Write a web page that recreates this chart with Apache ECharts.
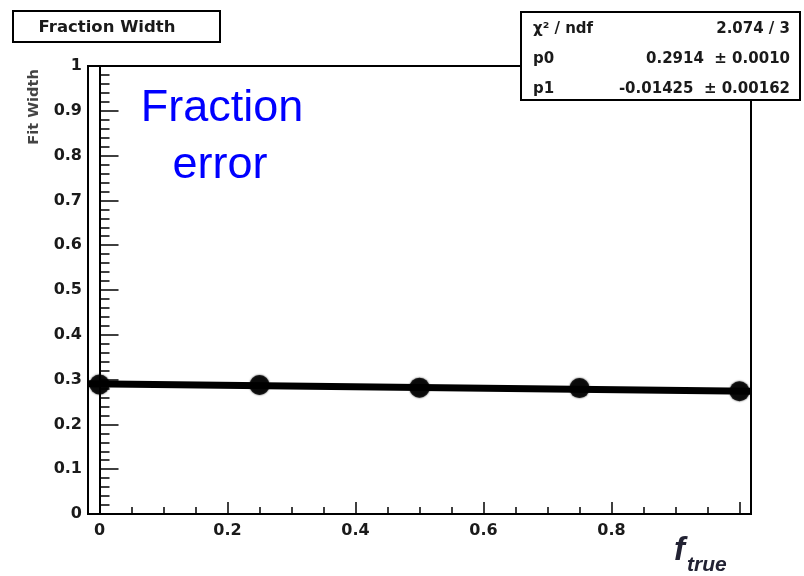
<!DOCTYPE html>
<html>
<head>
<meta charset="utf-8">
<title>Fraction Width</title>
<script src="https://cdn.jsdelivr.net/npm/echarts@6/dist/echarts.min.js"></script>
<style>
    html, body { margin: 0; padding: 0; background: #fff; }
    #chart { width: 804px; height: 576px; }
</style>
</head>
<body>
<div id="chart"></div>
<script>
    // measured points
    const fTrue = [0, 0.25, 0.5, 0.75, 1.0]
    const fitWidth = [0.289, 0.288, 0.282, 0.281, 0.274]

    // fit line, read at the frame edges
    const fitX = [-0.018, 1.018]
    const fitY = [0.291, 0.274]

    const xTicks = [0, 0.2, 0.4, 0.6, 0.8]

    const statNames = ['χ² / ndf', 'p0', 'p1']
    const statValues = ['2.074 / 3', '0.2914  ± 0.0010', '-0.01425  ± 0.00162']

    const textFont = 'DejaVu Sans'
    const ink = '#1a1a1a'

    let chart = echarts.init(document.getElementById('chart'))

    let points = []
    for (let i = 0, j = fTrue.length; i < j; i++) {
        points.push([fTrue[i], fitWidth[i]])
    }
    let fitLine = []
    for (let i = 0; i < fitX.length; i++) {
        fitLine.push([fitX[i], fitY[i]])
    }

    let graphics = [
        {
            type: 'rect',
            shape: { x: 13, y: 11, width: 207, height: 31 },
            style: { fill: '#fff', stroke: '#000', lineWidth: 2 },
            z: 10
        },
        {
            type: 'text',
            x: 107, y: 28,
            style: {
                text: 'Fraction Width', fill: ink, font: 'bold 16.5px ' + textFont,
                align: 'center', verticalAlign: 'middle'
            },
            z: 11
        },
        {
            type: 'text',
            x: 34, y: 107, rotation: Math.PI / 2,
            style: {
                text: 'Fit Width', fill: '#444', font: 'bold 14.5px ' + textFont,
                align: 'center', verticalAlign: 'middle'
            },
            z: 11
        },
        {
            type: 'rect',
            shape: { x: 521, y: 12, width: 279, height: 88 },
            style: { fill: '#fff', stroke: '#000', lineWidth: 2 },
            z: 10
        },
        {
            type: 'text',
            x: 222, y: 109,
            style: {
                text: 'Fraction', fill: '#0000ff', font: '45px "Liberation Sans"',
                align: 'center', verticalAlign: 'middle'
            },
            z: 11
        },
        {
            type: 'text',
            x: 220, y: 166,
            style: {
                text: 'error', fill: '#0000ff', font: '45px "Liberation Sans"',
                align: 'center', verticalAlign: 'middle'
            },
            z: 11
        },
        {
            type: 'text',
            x: 674, y: 551,
            style: {
                text: 'f', fill: '#222233', font: 'italic bold 33px "Liberation Sans"',
                align: 'left', verticalAlign: 'middle'
            },
            z: 11
        },
        {
            type: 'text',
            x: 687, y: 565,
            style: {
                text: 'true', fill: '#222233', font: 'italic bold 21px "Liberation Sans"',
                align: 'left', verticalAlign: 'middle'
            },
            z: 11
        }
    ]

    const rowY = [29, 59, 89]
    for (let i = 0; i < statNames.length; i++) {
        graphics.push({
            type: 'text',
            x: 533, y: rowY[i],
            style: {
                text: statNames[i], fill: ink, font: 'bold 15px ' + textFont,
                align: 'left', verticalAlign: 'middle'
            },
            z: 11
        })
        graphics.push({
            type: 'text',
            x: 790, y: rowY[i],
            style: {
                text: statValues[i], fill: ink, font: 'bold 15px ' + textFont,
                align: 'right', verticalAlign: 'middle'
            },
            z: 11
        })
    }

    const option = {
        animation: false,
        backgroundColor: '#fff',
        grid: [
            {
                left: 88, right: 53, top: 66, bottom: 62,
                show: true, borderColor: '#000', borderWidth: 2,
                backgroundColor: 'transparent'
            },
            {
                left: 99.5, right: 64.5, top: 66, bottom: 62
            }
        ],
        xAxis: [
            {
                type: 'value',
                gridIndex: 0,
                min: fitX[0],
                max: fitX[1],
                axisLine: { show: true, lineStyle: { color: '#000', width: 2 } },
                axisTick: { show: false },
                axisLabel: { show: false },
                splitLine: { show: false }
            },
            {
                type: 'value',
                gridIndex: 1,
                min: 0,
                max: 1,
                interval: 0.2,
                axisLine: { show: false },
                axisTick: { show: true, inside: true, length: 12, lineStyle: { color: '#000', width: 1.5 } },
                minorTick: { show: true, splitNumber: 4, length: 7, lineStyle: { color: '#000', width: 1.5 } },
                axisLabel: {
                    margin: 9,
                    color: ink,
                    fontSize: 16,
                    fontWeight: 'bold',
                    fontFamily: textFont,
                    formatter: function (v) {
                        for (let i = 0; i < xTicks.length; i++) {
                            if (Math.abs(v - xTicks[i]) < 1e-6) return String(xTicks[i])
                        }
                        return ''
                    }
                },
                splitLine: { show: false }
            }
        ],
        yAxis: [
            {
                type: 'value',
                gridIndex: 0,
                min: 0,
                max: 1,
                interval: 0.1,
                axisLine: { show: true, lineStyle: { color: '#000', width: 2 } },
                axisTick: { show: true, inside: true, length: 19, lineStyle: { color: '#000', width: 1.5 } },
                minorTick: { show: true, splitNumber: 5, length: 10, lineStyle: { color: '#000', width: 1.5 } },
                axisLabel: {
                    margin: 6,
                    color: ink,
                    fontSize: 16,
                    fontWeight: 'bold',
                    fontFamily: textFont
                },
                splitLine: { show: false }
            },
            {
                type: 'value',
                gridIndex: 1,
                min: 0,
                max: 1,
                show: false
            }
        ],
        series: [
            {
                name: 'fit',
                type: 'line',
                xAxisIndex: 0,
                yAxisIndex: 0,
                showSymbol: false,
                symbol: 'none',
                lineStyle: { color: '#000', width: 7 },
                data: fitLine,
                z: 2
            },
            {
                name: 'Fraction Width',
                type: 'scatter',
                xAxisIndex: 0,
                yAxisIndex: 0,
                symbol: 'circle',
                symbolSize: 20,
                itemStyle: { color: '#000', shadowBlur: 2, shadowColor: '#000' },
                data: points,
                z: 3
            }
        ],
        graphic: graphics
    }

    chart.setOption(option)
</script>
</body>
</html>
